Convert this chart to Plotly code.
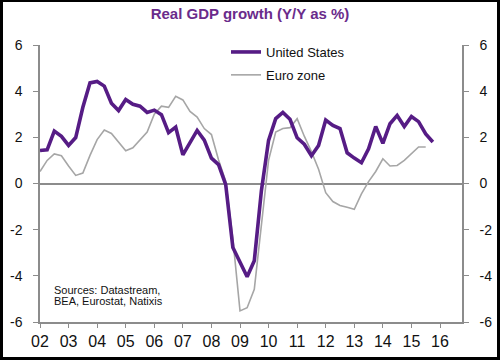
import plotly.graph_objects as go

# Quarterly data, 2002Q1 onwards (Y/Y %)
us_growth = [1.43, 1.46, 2.27, 2.04, 1.65, 1.99, 3.30, 4.36, 4.42, 4.22,
             3.48, 3.16, 3.64, 3.43, 3.35, 3.08, 3.18, 2.98, 2.20, 2.44,
             1.24, 1.76, 2.30, 1.88, 1.10, 0.82, -0.05, -2.77, -3.42, -4.04,
             -3.35, -0.30, 1.87, 2.81, 3.08, 2.78, 1.98, 1.70, 1.20, 1.65,
             2.75, 2.52, 2.38, 1.33, 1.10, 0.90, 1.50, 2.47, 1.74, 2.59,
             2.95, 2.47, 2.90, 2.68, 2.15, 1.80]
ez_growth = [0.52, 1.00, 1.28, 1.20, 0.76, 0.35, 0.45, 1.22, 1.90, 2.32,
             2.17, 1.80, 1.42, 1.55, 1.90, 2.23, 3.00, 3.35, 3.30, 3.78,
             3.62, 3.12, 2.88, 2.38, 2.12, 1.02, 0.10, -2.40, -5.52, -5.38,
             -4.58, -1.75, 1.00, 2.23, 2.38, 2.42, 2.81, 2.05, 1.38, 0.62,
             -0.40, -0.78, -0.95, -1.03, -1.12, -0.45, 0.08, 0.52, 1.07, 0.76,
             0.78, 1.00, 1.28, 1.58, 1.58]
us_dates = [2002 + k / 4 for k in range(len(us_growth))]
ez_dates = [2002 + k / 4 for k in range(len(ez_growth))]

year_ticks = list(range(2002, 2017))
year_labels = [f"{y % 100:02d}" for y in year_ticks]
y_ticks = [-6, -4, -2, 0, 2, 4, 6]
y_labels = ["-6", "-4", "-2", "0", "2", "4", "6"]

title_text = "Real GDP growth (Y/Y as %)"
source_lines = ["Sources: Datastream,", "BEA, Eurostat, Natixis"]

PURPLE = "#561c85"
GREY = "#a6a6a6"
AXIS = "#8c8c8c"
FONT = "Liberation Sans, Arial, sans-serif"

fig = go.Figure()
fig.add_trace(go.Scatter(x=ez_dates, y=ez_growth, mode="lines", name="Euro zone",
                         line=dict(color=GREY, width=1.6), yaxis="y",
                         legendgroup="ez", legendrank=2))
fig.add_trace(go.Scatter(x=us_dates, y=us_growth, mode="lines", name="United States",
                         line=dict(color=PURPLE, width=3.6), yaxis="y2",
                         legendgroup="us", legendrank=1))

L, R, T, B = 40, 38, 45, 39
W, H = 500, 361
pw, ph = W - L - R, H - T - B

def px2x(px):
    return (px - L) / pw

def py2y(py):
    return (H - B - py) / ph

axis_common = dict(range=[-6, 6], tickvals=y_ticks, ticktext=y_labels,
                   ticks="outside", ticklen=5, tickcolor=AXIS, tickwidth=1.2,
                   showline=True, linecolor=AXIS, linewidth=1.5,
                   showgrid=False, tickfont=dict(size=14, color="#111", family=FONT),
                   ticklabelstandoff=8, fixedrange=True, automargin=False)

fig.update_layout(
    width=W, height=H,
    margin=dict(l=L, r=R, t=T, b=B, autoexpand=False),
    paper_bgcolor="white", plot_bgcolor="white",
    font=dict(family=FONT, color="#111"),
    title=dict(text=f"<b>{title_text}</b>", x=0.5, xanchor="center",
               y=1 - 13.5 / H, yanchor="middle", xref="container",
               font=dict(size=15, color="#6a2b8b", family=FONT)),
    xaxis=dict(range=[2002, 2016.77], tickvals=year_ticks, ticktext=year_labels,
               ticks="outside", ticklen=4, tickcolor=AXIS, tickwidth=1.2,
               showline=True, linecolor=AXIS, linewidth=1.5, showgrid=False,
               zeroline=False, automargin=False, fixedrange=True,
               tickfont=dict(size=16, color="#111", family=FONT)),
    yaxis=dict(**axis_common, side="left", zeroline=True, zerolinecolor=AXIS,
               zerolinewidth=1.5),
    yaxis2=dict(**axis_common, side="right", overlaying="y", zeroline=False),
    legend=dict(x=px2x(226), xanchor="left", y=py2y(37), yanchor="top",
                bgcolor="rgba(0,0,0,0)", font=dict(size=13, color="#111", family=FONT),
                tracegroupgap=3),
    showlegend=True,
)

for i, (line, py) in enumerate(zip(source_lines, [290, 300.5])):
    fig.add_annotation(text=line, xref="paper", yref="paper", x=px2x(52), y=py2y(py),
                       xanchor="left", yanchor="middle", showarrow=False,
                       font=dict(size=11, color="#111", family=FONT))

fig.add_shape(type="rect", xref="paper", yref="paper",
              x0=px2x(1.5), x1=px2x(498.5), y0=py2y(358.5), y1=py2y(0.5),
              line=dict(color="black", width=3), fillcolor="rgba(0,0,0,0)", layer="above")

fig.write_html("out.html", config={"displayModeBar": False},
               post_script="document.body.style.margin='0';document.body.style.padding='0';")
